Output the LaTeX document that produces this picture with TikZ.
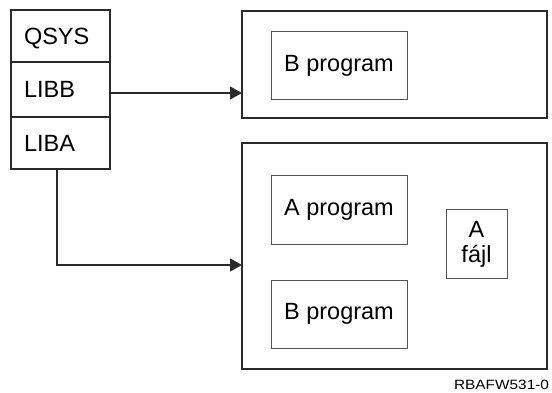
\documentclass[tikz,border=0pt]{standalone}
\usepackage{fontspec}
\setmainfont{Liberation Sans}
\usetikzlibrary{arrows.meta}
\definecolor{outline}{HTML}{2A2A2A}
\definecolor{inline}{HTML}{555555}
\begin{document}
\begin{tikzpicture}[x=1pt,y=-1pt,
  every node/.style={inner sep=0pt,outer sep=0pt,font=\fontsize{23.5}{25}\selectfont},
  row/.style={draw=outline,line width=1.1pt,rectangle,minimum width=99pt,text width=73pt,align=left,text depth=-1.5pt},
  outerbox/.style={draw=outline,line width=1.1pt,rectangle},
  prog/.style={draw=inline,line width=1pt,rectangle,minimum width=136pt,minimum height=68pt},
  arr/.style={draw=outline,line width=1.1pt,-{Triangle[length=12pt,width=13pt]}}]
\useasboundingbox (0,0) rectangle (552,393);
% stack
\node[row,minimum height=52pt,anchor=north west] (qsys) at (11,10) {QSYS};
\node[row,minimum height=55pt,anchor=north west] (libb) at (11,62) {LIBB};
\node[row,minimum height=52pt,anchor=north west] (liba) at (11,117) {LIBA};
% top library
\node[outerbox,minimum width=305pt,minimum height=107pt,anchor=north west] (top) at (242,11) {};
\node[prog,anchor=north west] (bprog1) at (271,32) {B program};
% bottom library
\node[outerbox,minimum width=305pt,minimum height=226pt,anchor=north west] (low) at (242,143) {};
\node[prog,anchor=north west] (aprog) at (271,176) {A program};
\node[prog,anchor=north west] (bprog2) at (271,280) {B program};
\node[draw=inline,line width=1pt,rectangle,minimum width=61pt,minimum height=68pt,align=center,anchor=north west] (afajl) at (446,210) {A\\fájl};
% connectors
\draw[arr] ([yshift=-3.5pt]libb.east) -- ([yshift=-3.5pt]libb.east -| top.west);
\draw[arr] ([xshift=-3.5pt]liba.south) |- ([yshift=-9pt]low.west);
% label
\node[anchor=base east,font=\fontsize{13.5}{15}\selectfont,xscale=1.14] (lbl) at (549,389) {RBAFW531-0};
\end{tikzpicture}
\end{document}
